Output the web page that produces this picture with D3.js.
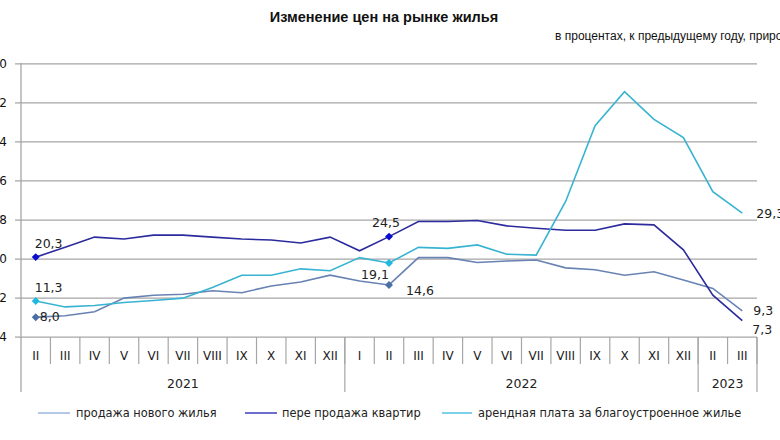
<!DOCTYPE html>
<html><head><meta charset="utf-8">
<script src="https://cdn.jsdelivr.net/npm/d3@7"></script>
<style>body{margin:0;background:#fff}svg{display:block}</style>
</head><body>
<svg id="c" width="780" height="440"></svg>
<script>
const months = ["II","III","IV","V","VI","VII","VIII","IX","X","XI","XII",
  "I","II","III","IV","V","VI","VII","VIII","IX","X","XI","XII","II","III"];
const years = [{label:"2021",count:11},{label:"2022",count:12},{label:"2023",count:2}];
const newHousing = [8.0,8.3,9.1,11.9,12.5,12.7,13.4,13.0,14.4,15.2,16.6,
  15.4,14.6,20.2,20.2,19.2,19.5,19.7,18.1,17.7,16.6,17.3,15.6,13.9,9.3];
const resale = [20.3,22.3,24.4,24.0,24.8,24.8,24.4,24.0,23.8,23.2,24.4,
  21.6,24.5,27.6,27.6,27.8,26.7,26.2,25.8,25.8,27.1,26.9,21.8,12.5,7.3];
const rent = [11.3,10.1,10.4,11.0,11.4,11.9,14.1,16.6,16.6,17.9,17.5,
  20.2,19.1,22.3,22.1,22.8,20.9,20.7,31.7,47.2,54.2,48.5,44.8,33.7,29.3];
const yTicks = [4,12,20,28,36,44,52,60];
const seriesNames = ["продажа нового  жилья","пере продажа квартир","арендная плата за благоустроенное жилье"];

const svg = d3.select("#c");
const x = d3.scaleBand().domain(d3.range(months.length)).range([21,757]);
const y = d3.scaleLinear().domain([4,60]).range([336.7,63.3]);
const cx = i => x(i) + x.bandwidth()/2;
const grid = "#a6a6a6";

// title
svg.append("text").attr("x",384).attr("y",22).attr("text-anchor","middle")
  .attr("font-family","'Liberation Sans Narrow','Liberation Sans',sans-serif").attr("font-weight","bold")
  .attr("font-size",14.5).attr("fill","#111").text("Изменение цен на рынке жилья");
svg.append("text").attr("x",555).attr("y",40)
  .attr("font-family","'Liberation Sans Narrow','Liberation Sans',sans-serif")
  .attr("font-size",12).attr("fill","#111").text("в процентах, к предыдущему году, прирост");

// y axis grid
const yAxis = d3.axisLeft(y).tickValues(yTicks).tickSize(-(757-15)).tickPadding(9).tickFormat(d3.format("d"));
const ga = svg.append("g").attr("transform","translate(757,0)").call(yAxis);
ga.select(".domain").remove();
ga.selectAll(".tick line").attr("stroke",grid).attr("stroke-width",1.3).attr("x1",-742).attr("x2",0);
ga.selectAll(".tick text").attr("x",-750).attr("font-family","'DejaVu Sans',sans-serif").attr("font-size",12).attr("fill","#111");

// left axis line
svg.append("line").attr("x1",21).attr("x2",21).attr("y1",63).attr("y2",392).attr("stroke",grid).attr("stroke-width",1.3);

// category separators
svg.append("g").selectAll("line").data(d3.range(1,months.length+1)).join("line")
  .attr("x1",i=>x(i) ?? 757).attr("x2",i=>x(i) ?? 757)
  .attr("y1",337).attr("y2",364).attr("stroke",grid).attr("stroke-width",1.2);
// year separators
let acc=0; const yb=[];
years.forEach(g=>{yb.push({start:acc,end:acc+g.count,label:g.label}); acc+=g.count;});
svg.append("g").selectAll("line").data(yb).join("line")
  .attr("x1",d=>d.end<months.length?x(d.end):757).attr("x2",d=>d.end<months.length?x(d.end):757)
  .attr("y1",337).attr("y2",392).attr("stroke",grid).attr("stroke-width",1.2);
// month labels
svg.append("g").selectAll("text").data(months).join("text")
  .attr("x",(d,i)=>cx(i)).attr("y",360).attr("text-anchor","middle")
  .attr("font-family","'DejaVu Sans',sans-serif").attr("font-size",12).attr("fill","#222").text(d=>d);
svg.append("g").selectAll("text").data(yb).join("text")
  .attr("x",d=>((x(d.start))+(d.end<months.length?x(d.end):757))/2).attr("y",388).attr("text-anchor","middle")
  .attr("font-family","'DejaVu Sans',sans-serif").attr("font-size",12.5).attr("fill","#222").text(d=>d.label);

// lines
const line = d3.line().x((d,i)=>cx(i)).y(d=>y(d));
const series = [
  {vals:newHousing, color:"#6883b3", mark:"#4a6fa5", legend:"#8aaad8"},
  {vals:resale, color:"#2b2b9e", mark:"#0b0bd0", legend:"#2020b0"},
  {vals:rent, color:"#38b4d2", mark:"#1fb8e0", legend:"#38b8e0"}
];
series.forEach(s=>{
  svg.append("path").datum(s.vals).attr("d",line).attr("fill","none")
    .attr("stroke",s.color).attr("stroke-width",1.6);
});
// markers at II 2021 and II 2022
const markIdx=[0,12];
const diamond=d3.symbol().type(d3.symbolDiamond2).size(40);
series.forEach(s=>{
  svg.append("g").selectAll("path").data(markIdx).join("path")
    .attr("d",diamond).attr("transform",i=>`translate(${cx(i)},${y(s.vals[i])})`).attr("fill",s.mark);
});

// data labels
const lab=[
  {s:1,i:0,dx:-1,dy:-9},
  {s:2,i:0,dx:-1,dy:-9},
  {s:0,i:0,dx:4,dy:4},
  {s:1,i:12,dx:-17,dy:-10},
  {s:2,i:12,dx:-28,dy:16},
  {s:0,i:12,dx:17,dy:10},
  {s:2,i:24,dx:14,dy:5},
  {s:0,i:24,dx:11,dy:4},
  {s:1,i:24,dx:10,dy:13}
];
const fmt=v=>d3.format(".1f")(v).replace(".",",");
svg.append("g").selectAll("text").data(lab).join("text")
  .attr("x",d=>cx(d.i)+d.dx).attr("y",d=>y(series[d.s].vals[d.i])+d.dy)
  .attr("font-family","'DejaVu Sans',sans-serif").attr("font-size",12.5).attr("fill","#222")
  .text(d=>fmt(series[d.s].vals[d.i]));

// legend
const lx=[[38,70,76],[245,277,282],[442,472,478]];
series.forEach((s,k)=>{
  svg.append("line").attr("x1",lx[k][0]).attr("x2",lx[k][1]).attr("y1",413).attr("y2",413)
    .attr("stroke",s.legend).attr("stroke-width",1.3);
  svg.append("text").attr("x",lx[k][2]).attr("y",417)
    .attr("font-family","'DejaVu Sans',sans-serif").attr("font-size",11.4).attr("fill","#222").text(seriesNames[k]);
});
</script>
</body></html>
